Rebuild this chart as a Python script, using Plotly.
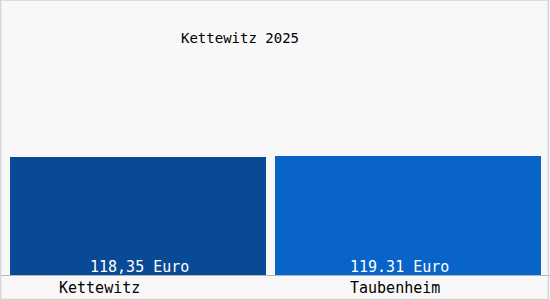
import plotly.graph_objects as go

categories = ["Kettewitz", "Taubenheim"]
values = [118.35, 119.31]
value_labels = ["118,35 Euro", "119.31 Euro"]
title_text = "Kettewitz 2025"

bar_colors = ["#084a96", "#0864c8"]
bar_widths = [256 / 275, 266 / 275]
bar_offsets = [-127.5 / 275, -0.5]
label_xshift = [1.5, -13.5]
cat_xshift = [-38.5, -18]

FONT = "DejaVu Sans Mono"

fig = go.Figure()
fig.add_trace(go.Bar(
    x=categories, y=values,
    marker=dict(color=bar_colors, line=dict(width=0)),
    width=bar_widths, offset=bar_offsets,
    hoverinfo="skip",
))

for i, (c, t) in enumerate(zip(categories, value_labels)):
    fig.add_annotation(x=c, y=0, xref="x", yref="y", text=t, showarrow=False,
                       yanchor="bottom", xanchor="center", xshift=label_xshift[i], yshift=-3,
                       font=dict(family=FONT, size=15, color="white"))
    fig.add_annotation(x=c, y=0, xref="x", yref="y", text=c, showarrow=False,
                       yanchor="middle", xanchor="center", xshift=cat_xshift[i], yshift=-13,
                       font=dict(family=FONT, size=15, color="black"))

fig.add_shape(type="rect", xref="paper", yref="paper",
              x0=0.001, x1=0.997, y0=-25 / 275 + 0.002, y1=1.0,
              line=dict(color="#d4d4d4", width=1.5), layer="above")

fig.update_layout(
    width=550, height=300,
    margin=dict(l=0, r=0, t=0, b=25),
    paper_bgcolor="#f8f8f8", plot_bgcolor="#f8f8f8",
    showlegend=False,
    title=dict(text=title_text, x=240 / 550, xanchor="center", y=1 - 38 / 300, yanchor="middle",
               font=dict(family=FONT, size=14, color="black")),
    xaxis=dict(type="category", range=[-0.5, 1.5], showticklabels=False, showgrid=False,
               zeroline=False, showline=True, linecolor="#b4b4b4", linewidth=1, ticks=""),
    yaxis=dict(range=[0, 275], visible=False, showgrid=False, zeroline=False),
    bargap=0,
)

fig.write_html("out.html")
